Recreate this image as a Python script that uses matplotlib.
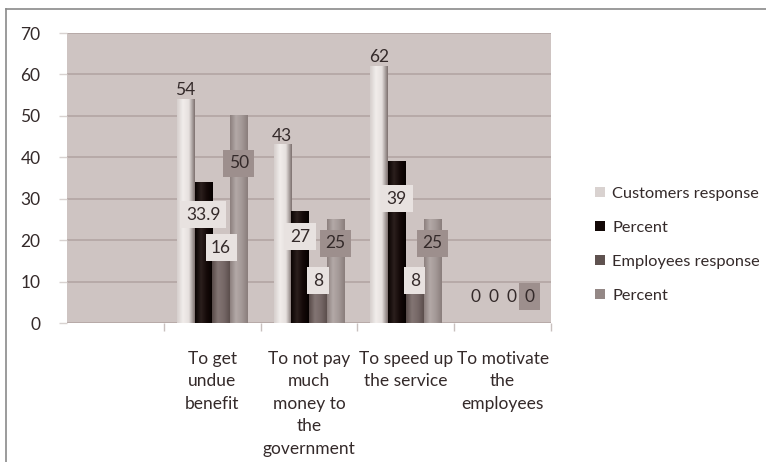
import numpy as np
import matplotlib.pyplot as plt
from matplotlib.patches import Patch
from matplotlib.lines import Line2D

plt.rcParams['font.family'] = ['Lato', 'DejaVu Sans']

categories = ['', 'To get\nundue\nbenefit', 'To not pay\nmuch\nmoney to\nthe\ngovernment',
              'To speed up\nthe service', 'To motivate\nthe\nemployees']
series_names = ['Customers response', 'Percent', 'Employees response', 'Percent']
customers = [None, 54, 43, 62, 0]
customers_pct = [None, 33.9, 27, 39, 0]
employees = [None, 16, 8, 8, 0]
employees_pct = [None, 50, 25, 25, 0]
series = [customers, customers_pct, employees, employees_pct]

# shading stops (left, middle, right) for the cylinder-like bars
shades = [
    ['#d6cfcd', '#f1edeb', '#e6e0de', '#7d716f'],
    ['#0a0302', '#2b1f1d', '#140908', '#060100'],
    ['#584b49', '#837573', '#766867', '#5c4f4d'],
    ['#8c807e', '#b3a9a7', '#a39896', '#8a7e7c'],
]
legend_colors = ['#d9d2d0', '#120806', '#5f5250', '#948886']
box_colors = [None, '#e8e2e0', '#e8e2e0', '#9d8f8d']
text_color = '#342a2a'
bg = '#cec4c2'
grid = '#b3a5a3'

offsets = [-0.275, -0.092, 0.092, 0.275]
width = 0.18
fs = 12.5

fig = plt.figure(figsize=(7.66, 4.62), dpi=100)
ax = fig.add_axes([67 / 766, 1 - 323 / 462, (551 - 67) / 766, (323 - 33) / 462])
ax.set_facecolor(bg)
ax.yaxis.grid(True, color=grid, linewidth=1.2)
ax.set_axisbelow(True)
for s in ax.spines.values():
    s.set_visible(False)

x = np.arange(len(categories))


def gradient(stops, n=64):
    rgb = np.array([plt.matplotlib.colors.to_rgb(c) for c in stops])
    pos = np.linspace(0, 1, len(stops))
    t = np.linspace(0, 1, n)
    return np.stack([np.interp(t, pos, rgb[:, k]) for k in range(3)], axis=-1)[None, :, :]


for si, vals in enumerate(series):
    idx = [i for i, v in enumerate(vals) if v is not None]
    heights = [vals[i] for i in idx]
    bars = ax.bar(x[idx] + offsets[si], heights, width=width, color='none', zorder=2)
    img = gradient(shades[si])
    for rect, v in zip(bars, heights):
        if v <= 0:
            continue
        x0 = rect.get_x()
        ax.imshow(img, extent=[x0, x0 + rect.get_width(), 0, v], aspect='auto',
                  zorder=2, interpolation='bilinear')

    # value labels
    for i, v in zip(idx, heights):
        if v == 0:
            ly = 6.3
        elif si in (0, 2):
            ly = v + 2.2
        else:
            ly = v * 0.77
        kw = {}
        if box_colors[si] and (v > 0 or si == 3):
            kw['bbox'] = dict(boxstyle='square,pad=0.32', fc=box_colors[si], ec='none')
        ax.text(x[i] + offsets[si], ly, f'{v:g}', ha='center', va='center', fontsize=fs,
                color=text_color, zorder=4, **kw)

ax.set_xlim(-0.5, 4.5)
ax.set_ylim(0, 70)
ax.set_yticks(range(0, 71, 10))

ax.set_xticks(x)
ax.set_xticklabels(categories, fontsize=fs, color=text_color, linespacing=1.5, va='top')
ax.set_xticks(np.arange(0.5, 4.6, 1), minor=True)
ax.tick_params(axis='x', which='major', length=0, pad=20)
ax.tick_params(axis='x', which='minor', length=6, color='#c8c0be', width=1)
ax.tick_params(axis='y', length=6, color='#d8d2d0', width=1, pad=13, labelsize=fs,
               labelcolor=text_color)

handles = [Patch(facecolor=c, edgecolor='none') for c in legend_colors]
fig.legend(handles, series_names, loc='center left', bbox_to_anchor=(595 / 766, 1 - 245 / 462),
           frameon=False, fontsize=11.8, handlelength=0.6, handleheight=0.6, handletextpad=0.45,
           labelspacing=1.22, labelcolor=text_color, borderpad=0, borderaxespad=0)

# outer chart frame
fig.add_artist(Line2D([6 / 766, 1], [1 - 9 / 462, 1 - 9 / 462], color='#8a8a8a', lw=1.2))
fig.add_artist(Line2D([6 / 766, 6 / 766], [0, 1 - 9 / 462], color='#8a8a8a', lw=1.2))

fig.savefig('out.png', dpi=100)
